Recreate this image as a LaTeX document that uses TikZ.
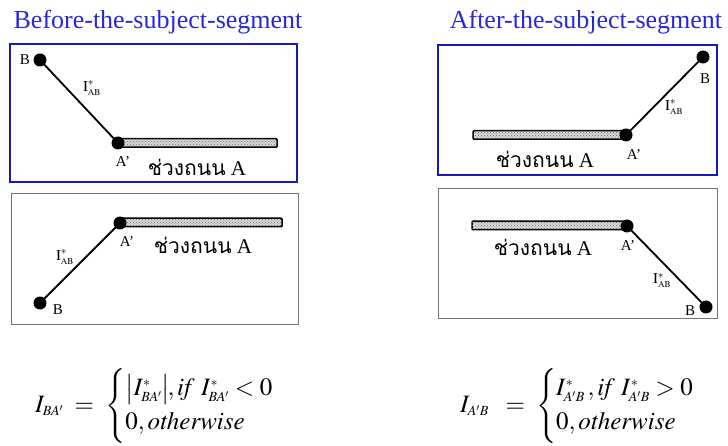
\documentclass[tikz,border=0pt]{standalone}
\usepackage{amsmath}
\usepackage{mathptmx}
\usepackage{fontspec}
\setmainfont{Liberation Serif}
\newfontfamily\thaifont[Script=Thai]{Loma}
\DeclareMathSizes{25}{25}{14}{10.5}
\usetikzlibrary{patterns}
\definecolor{titleblue}{RGB}{40,40,215}
\definecolor{frameblue}{RGB}{25,25,190}
\tikzset{
  titletext/.style={font=\fontsize{26}{30}\selectfont, text=titleblue, inner sep=0pt},
  blueframe/.style={draw=frameblue, line width=2.6pt},
  greyframe/.style={draw=black!55, line width=0.9pt},
  enddot/.style={circle, fill=black, inner sep=0pt, minimum size=13pt},
  roadbar/.style={draw=black, line width=1.5pt, fill=gray!30, rounded corners=1pt,
     postaction={pattern=crosshatch dots, pattern color=black!60},
     minimum height=8.5pt, inner sep=0pt},
  link/.style={line width=1.8pt, black},
  ptlabel/.style={font=\fontsize{15}{17}\selectfont, inner sep=0pt},
  ilabel/.style={font=\fontsize{15}{17}\selectfont, inner sep=0pt},
  roadlabel/.style={font=\fontsize{21}{24}\selectfont, inner sep=0pt},
  eqtext/.style={inner sep=0pt, anchor=base west, font=\fontsize{25}{29}\selectfont}
}
\newcommand{\istar}{$\mathrm{I}^{*}_{\scriptscriptstyle\mathrm{AB}}$}
\newcommand{\roadname}{{\thaifont ช่วงถนน} A}
\newcommand{\eqrows}[1]{\left\{\renewcommand{\arraystretch}{1.15}\begin{array}{@{}l@{}}#1\end{array}\right.}
\begin{document}
\begin{tikzpicture}[x=1pt,y=-1pt]
\useasboundingbox (0,0) rectangle (728,446);
% titles
\node[titletext] (t1) at (158,22) {Before-the-subject-segment};
\node[titletext] (t2) at (586,22) {After-the-subject-segment};
% frames
\draw[blueframe] (10,44) rectangle (297,182);
\draw[greyframe] (11,193) rectangle (298,324);
\draw[blueframe] (438,45) rectangle (717,175);
\draw[greyframe] (438,188) rectangle (717,318);
% box 1
\node[roadbar, minimum width=159pt] (r1) at (197.5,143) {};
\node[enddot] (a1) at (118,143) {};
\node[enddot] (b1) at (40,60) {};
\draw[link] (b1.center) -- (a1.center);
\node[ptlabel] (lb1) at (25,60) {B};
\node[ilabel] (li1) at (92,88) {\istar};
\node[ptlabel] (la1) at (123,162) {A’};
\node[roadlabel] (lr1) at (197,167) {\roadname};
% box 2
\node[roadbar, minimum width=162pt] (r2) at (201,222.5) {};
\node[enddot] (a2) at (120,223) {};
\node[enddot] (b2) at (40,303) {};
\draw[link] (b2.center) -- (a2.center);
\node[ptlabel] (lb2) at (58,310) {B};
\node[ilabel] (li2) at (65,257) {\istar};
\node[ptlabel] (la2) at (127,242) {A’};
\node[roadlabel] (lr2) at (203,245) {\roadname};
% box 3
\node[roadbar, minimum width=153pt] (r3) at (549.5,135) {};
\node[enddot] (a3) at (626,135) {};
\node[enddot] (b3) at (703,57) {};
\draw[link] (b3.center) -- (a3.center);
\node[ptlabel] (lb3) at (705,79) {B};
\node[ilabel] (li3) at (674,107) {\istar};
\node[ptlabel] (la3) at (634,155) {A’};
\node[roadlabel] (lr3) at (545,159) {\roadname};
% box 4
\node[roadbar, minimum width=155pt] (r4) at (549.5,225.5) {};
\node[enddot] (a4) at (627,226) {};
\node[enddot] (b4) at (706,307) {};
\draw[link] (b4.center) -- (a4.center);
\node[ptlabel] (lb4) at (690,311) {B};
\node[ilabel] (li4) at (662,280) {\istar};
\node[ptlabel] (la4) at (628,246) {A’};
\node[roadlabel] (lr4) at (543,247) {\roadname};
% equations
\node[eqtext] (e1) at (35,412) {$I_{BA'}\; = \;\eqrows{\bigl|I^{*}_{BA'}\bigr|\!, \mathit{if}\ I^{*}_{BA'} < 0 \\ 0, \mathit{otherwise}}$};
\node[eqtext] (e2) at (460,412) {$I_{A'B}\;\; = \;\eqrows{I^{*}_{A'B}\,, \mathit{if}\ I^{*}_{A'B} > 0 \\ 0, \mathit{otherwise}}$};
\end{tikzpicture}
\end{document}
